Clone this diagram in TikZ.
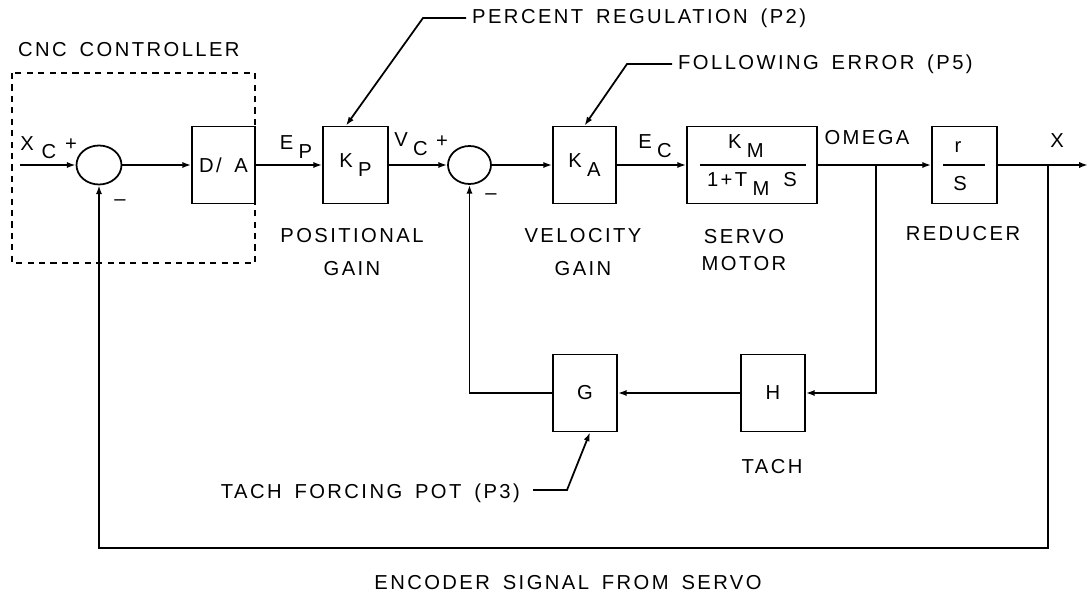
\documentclass[tikz,border=0pt]{standalone}
\usepackage{fontspec}
\setmainfont{Liberation Sans}[LetterSpace=12, WordSpace=1.6]
\usetikzlibrary{arrows.meta, shapes.geometric, calc}

\newcommand{\low}[1]{\hspace{3pt}\raisebox{-5pt}{#1}}

\tikzset{
  blk/.style={draw, line width=1pt, minimum width=1.28cm, minimum height=1.54cm, inner sep=0pt},
  summer/.style={draw, ellipse, line width=1pt, minimum width=0.9cm, minimum height=0.78cm, inner sep=0pt},
  wire/.style={line width=1pt},
}

\begin{document}
\begin{tikzpicture}[x=0.02cm, y=-0.02cm, font=\fontsize{11.5}{12.5}\selectfont, >={Latex[length=5pt,width=3.5pt]}]
    \useasboundingbox (0,0) rectangle (1089,594);
    % CNC controller
    \draw[line width=1pt, dash pattern=on 3.5pt off 3pt] (12,73) rectangle (255,263);
    \node[anchor=west] (cnc) at (12,50) {CNC CONTROLLER};
    % Forward path
    \coordinate (inp) at (20,165);
    \node[summer] (sum1) at (99,165) {};
    \node[blk, minimum width=1.26cm] (da) at (223.5,165) {D/ A};
    \node[blk, minimum width=1.3cm] (kp) at (355.5,165) {K\low{P}};
    \node[summer, minimum width=0.86cm, minimum height=0.76cm] (sum2) at (469.5,165) {};
    \node[blk, minimum width=1.26cm] (ka) at (584.5,165) {K\low{A}};
    \node[blk, minimum width=2.6cm] (motor) at (752,165) {};
    \node[blk, minimum width=1.3cm] (red) at (964.5,165) {};
    \coordinate (tapw) at (876,165);
    \coordinate (tapx) at (1048,165);
    \coordinate (outp) at (1088,165);
    % Feedback path
    \node[blk] (gbox) at (585,393) {G};
    \node[blk] (hbox) at (773,393) {H};
    \coordinate (encb) at (560,548);
    % Fractions inside the blocks
    \node (km) at (746,146) {K\low{M}};
    \node (tm) at (752,184) {1+T\low{M}\hspace{8pt}S};
    \draw[wire] ($(motor.west)+(14,0)$) -- ($(motor.east)+(-12,0)$);
    \node (rr) at (958,147) {r};
    \node (rs) at (960,184) {S};
    \draw[wire] ($(red.west)+(12,0)$) -- ($(red.east)+(-13,0)$);
    % Signals
    \draw[wire, ->] (inp) -- (sum1);
    \draw[wire, ->] (sum1) -- (da);
    \draw[wire, ->] (da) -- (kp);
    \draw[wire, ->] (kp) -- (sum2);
    \draw[wire, ->] (sum2) -- (ka);
    \draw[wire, ->] (ka) -- (motor);
    \draw[wire, ->] (motor) -- (red);
    \draw[wire, ->] (red) -- (outp);
    \draw[wire, ->] (tapw) |- (hbox);
    \draw[wire, ->] (hbox) -- (gbox);
    \draw[wire, ->] (gbox) -| (sum2);
    \draw[wire, ->] (tapx) -- (tapx |- encb) -| (sum1);
    % Signal labels
    \node (xl) at (27,144) {X};
    \node (xcl) at (49,152) {C};
    \node (plus1) at (71,145) {+};
    \node (minus1) at (120,203) {--};
    \node (epl) at (296,147) {E\low{P}};
    \node (vcl) at (411,144) {V\low{C}};
    \node (plus2) at (442,142) {+};
    \node (minus2) at (491,197) {--};
    \node (ecl) at (655,146) {E\low{C}};
    \node (omega) at (867,138) {OMEGA};
    \node (xout) at (1057,141) {X};
    % Block names
    \node[align=center] (posl) at (352,252) {POSITIONAL\\[6pt]GAIN};
    \node[align=center] (vell) at (583,252) {VELOCITY\\[6pt]GAIN};
    \node[align=center] (motl) at (744,250) {SERVO\\[3pt]MOTOR};
    \node (redl) at (963,234) {REDUCER};
    \node (tachl) at (772,467) {TACH};
    \node (encl) at (568,583) {ENCODER SIGNAL FROM SERVO};
    % Pot leaders
    \node[anchor=west] (p2txt) at (466,18) {PERCENT REGULATION (P2)};
    \coordinate (p2bend) at (423,18);
    \draw[wire, ->] (p2txt.west) -- (p2bend) -- ([xshift=-0.19cm]kp.north);
    \node[anchor=west] (p5txt) at (672,64) {FOLLOWING ERROR (P5)};
    \coordinate (p5bend) at (627,64);
    \draw[wire, ->] (p5txt.west) -- (p5bend) -- (ka.north);
    \node[anchor=east] (p3txt) at (526,493) {TACH FORCING POT (P3)};
    \coordinate (p3bend) at (567,490);
    \draw[wire, ->] ([xshift=4pt]p3txt.east |- p3bend) -- (p3bend) -- ([xshift=0.1cm]gbox.south);
\end{tikzpicture}
\end{document}
